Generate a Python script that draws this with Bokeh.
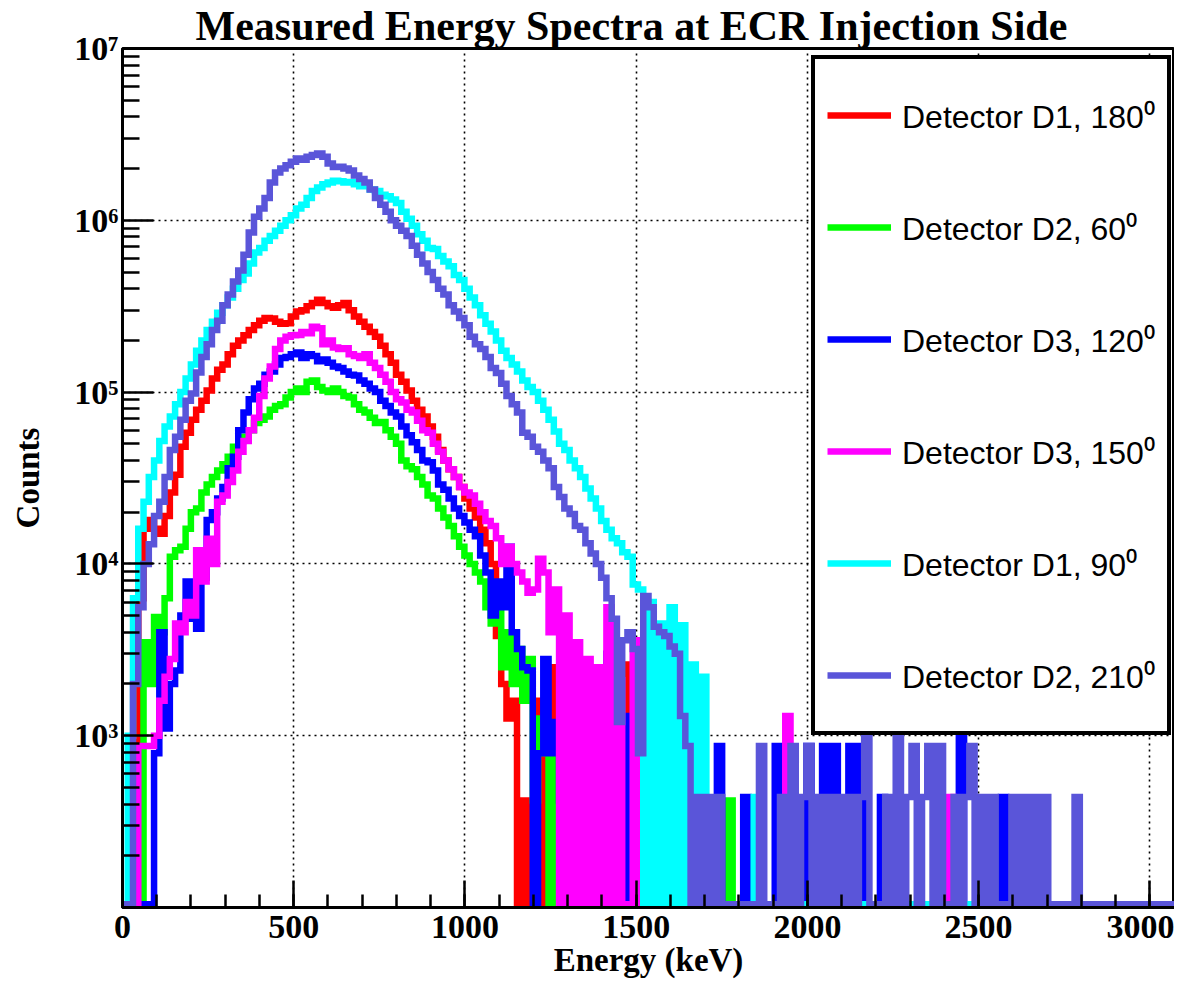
import numpy as np
from bokeh.plotting import figure
from bokeh.models import (Range1d, FixedTicker, CustomJSTickFormatter,
                          Legend, LegendItem, Title)
from bokeh.embed import file_html
from bokeh.resources import INLINE

# ---------------- data (counts per 15.36 keV bin) ----------------
BIN_WIDTH = 15.36
N_BINS = 200
X_MAX = 3072
Y_MIN, Y_MAX = 100, 1e7

labels = ["Detector D1, 180\u2070", "Detector D2, 60\u2070", "Detector D3, 120\u2070",
          "Detector D3, 150\u2070", "Detector D1, 90\u2070", "Detector D2, 210\u2070"]
colors = ["#ff0000", "#00ff00", "#0000ff", "#ff00ff", "#00ffff", "#5a55d9"]

d1_180 = [0, 0, 790, 6300, 1.6e4, 1.8e4, 1.6e4, 1.5e4, 1.9e4, 2.6e4,
          3.3e4, 4.8e4, 5.8e4, 6.9e4, 7.9e4, 8.9e4, 1.02e5, 1.2e5, 1.35e5, 1.45e5,
          1.66e5, 1.86e5, 2.0e5, 2.14e5, 2.3e5, 2.45e5, 2.6e5, 2.7e5, 2.68e5, 2.57e5,
          2.5e5, 2.52e5, 2.75e5, 2.95e5, 3.0e5, 3.16e5, 3.3e5, 3.45e5, 3.3e5, 3.16e5,
          3.1e5, 3.2e5, 3.3e5, 3.0e5, 2.75e5, 2.57e5, 2.4e5, 2.24e5, 2.1e5, 1.86e5,
          1.66e5, 1.48e5, 1.26e5, 1.15e5, 1.02e5, 8.9e4, 7.9e4, 7.2e4, 6.3e4, 5.5e4,
          4.6e4, 4.0e4, 3.55e4, 3.2e4, 2.8e4, 2.4e4, 2.1e4, 1.86e4, 1.58e4, 1.32e4,
          1.0e4, 3800, 2000, 1260, 1600, 0, 420, 0, 420, 1600,
          0, 2500, 0, 1000, 0, 0, 0, 1200, 0, 0,
          0, 0, 0, 0, 0, 0, 2600]

d2_60 = [0, 0, 0, 0, 3500, 2000, 4900, 4000, 6300, 1.1e4,
         1.2e4, 1.26e4, 1.6e4, 2.0e4, 2.1e4, 2.6e4, 2.9e4, 3.2e4, 3.5e4, 3.8e4,
         4.2e4, 4.8e4, 5.2e4, 5.5e4, 6.0e4, 6.6e4, 6.9e4, 7.2e4, 7.9e4, 8.3e4,
         8.5e4, 9.3e4, 1.0e5, 1.05e5, 1.0e5, 1.15e5, 1.17e5, 1.07e5, 1.02e5, 1.0e5,
         1.05e5, 1.0e5, 9.5e4, 9.3e4, 8.5e4, 7.9e4, 7.6e4, 7.1e4, 6.6e4, 6.7e4,
         6.0e4, 5.5e4, 5.0e4, 4.0e4, 3.7e4, 3.55e4, 3.2e4, 2.9e4, 2.5e4, 2.4e4,
         2.1e4, 1.86e4, 1.66e4, 1.45e4, 1.26e4, 1.12e4, 1.0e4, 8900, 7900, 5600,
         4500, 7100, 2500, 4000, 2000, 3200, 1600, 2800, 420, 1260,
         790, 0, 790, 0, 0, 0, 0, 0, 0, 0,
         0, 0, 0, 0, 0, 0, 0, 0, 0, 0,
         0, 0, 0, 0, 0, 0, 0, 0, 0, 0,
         0, 0, 0, 0, 0, 420]

d3_120 = [0, 0, 0, 0, 0, 0, 790, 4000, 1100, 2000,
          2400, 5000, 7900, 4800, 4200, 8300, 1.8e4, 2.0e4, 2.4e4, 2.8e4,
          3.6e4, 4.2e4, 6.0e4, 7.6e4, 9.1e4, 1.05e5, 1.12e5, 1.26e5, 1.32e5, 1.45e5,
          1.58e5, 1.6e5, 1.66e5, 1.7e5, 1.58e5, 1.66e5, 1.62e5, 1.51e5, 1.55e5, 1.48e5,
          1.41e5, 1.38e5, 1.32e5, 1.26e5, 1.25e5, 1.17e5, 1.12e5, 1.05e5, 1.0e5, 8.9e4,
          8.3e4, 7.6e4, 7.2e4, 6.3e4, 5.6e4, 5.1e4, 4.6e4, 4.0e4, 3.9e4, 3.5e4,
          2.9e4, 2.7e4, 2.4e4, 2.1e4, 1.9e4, 1.74e4, 1.58e4, 1.45e4, 1.12e4, 8900,
          5000, 7900, 5600, 1.26e4, 4000, 3200, 2500, 2400, 0, 790,
          2800, 790, 1200, 420, 0, 0, 790, 0, 2500, 0,
          0, 0, 3000, 0, 0, 0, 1300, 0, 0, 0,
          0, 0, 0, 0, 0, 0, 0, 0, 0, 1300,
          0, 0, 0, 870, 0, 0, 0, 0, 440, 0,
          0, 0, 0, 0, 870, 0, 0, 0, 0, 0,
          870, 0, 0, 870, 0, 870, 0, 0, 870, 0,
          870, 0, 0, 0, 440, 0, 0, 0, 0, 0,
          0, 0, 0, 0, 0, 0, 0, 0, 0, 1050,
          0, 0, 0, 0, 0, 0, 0, 440]

d3_150 = [0, 0, 0, 870, 870, 870, 1000, 1600, 2200, 2800,
          4500, 4000, 6000, 5000, 1.2e4, 7900, 1.4e4, 1.0e4, 2.3e4, 2.5e4,
          3.0e4, 3.5e4, 4.5e4, 5.2e4, 6.0e4, 7.1e4, 9.5e4, 1.2e5, 1.41e5, 1.78e5,
          2.0e5, 2.1e5, 2.14e5, 2.15e5, 2.24e5, 2.2e5, 2.4e5, 2.35e5, 1.9e5, 2.0e5,
          1.82e5, 1.78e5, 1.8e5, 1.66e5, 1.62e5, 1.58e5, 1.66e5, 1.48e5, 1.38e5, 1.26e5,
          1.15e5, 1.0e5, 9.1e4, 8.7e4, 7.9e4, 7.6e4, 6.8e4, 6.0e4, 5.8e4, 5.0e4,
          4.5e4, 4.0e4, 3.55e4, 3.2e4, 2.8e4, 2.6e4, 2.5e4, 2.24e4, 2.0e4, 1.78e4,
          1.66e4, 1.41e4, 1.0e4, 1.26e4, 1.0e4, 8900, 7900, 6800, 7100, 1.07e4,
          8900, 4000, 7100, 0, 5000, 0, 3500, 0, 2800, 0,
          2500, 0, 5600, 0, 2100, 0, 0, 3600, 0, 1600,
          0, 0, 0, 0, 0, 0, 0, 0, 0, 0,
          0, 0, 0, 0, 0, 0, 0, 0, 0, 0,
          0, 0, 0, 0, 0, 0, 1300, 0, 0, 0,
          0, 0, 0, 0, 0, 0, 0, 0, 0, 0,
          0, 0, 0, 0, 0, 0, 0, 0, 0, 0,
          0, 0, 0, 0, 0, 0, 0, 440]

d1_90 = [0, 1000, 6300, 1.6e4, 2.3e4, 3.2e4, 4.0e4, 5.2e4, 6.3e4, 7.2e4,
         8.5e4, 1.0e5, 1.2e5, 1.45e5, 1.74e5, 2.0e5, 2.3e5, 2.57e5, 2.9e5, 3.2e5,
         3.55e5, 4.0e5, 4.5e5, 4.9e5, 5.6e5, 6.5e5, 6.9e5, 7.6e5, 8.1e5, 8.7e5,
         9.3e5, 1.0e6, 1.07e6, 1.17e6, 1.23e6, 1.35e6, 1.48e6, 1.55e6, 1.62e6, 1.66e6,
         1.7e6, 1.69e6, 1.66e6, 1.67e6, 1.62e6, 1.58e6, 1.59e6, 1.51e6, 1.48e6, 1.41e6,
         1.38e6, 1.32e6, 1.26e6, 1.12e6, 1.02e6, 9.3e5, 8.3e5, 7.6e5, 6.9e5, 6.8e5,
         6.2e5, 5.75e5, 5.4e5, 4.8e5, 4.5e5, 4.0e5, 3.55e5, 3.2e5, 2.8e5, 2.5e5,
         2.25e5, 2.0e5, 1.74e5, 1.58e5, 1.45e5, 1.32e5, 1.17e5, 1.07e5, 1.0e5, 8.9e4,
         7.9e4, 6.9e4, 5.9e4, 5.0e4, 4.6e4, 4.0e4, 3.6e4, 3.2e4, 2.75e4, 2.4e4,
         2.1e4, 1.78e4, 1.58e4, 1.41e4, 1.32e4, 1.17e4, 1.1e4, 7600, 7100, 0,
         6000, 0, 4500, 0, 5600, 0, 4400, 0, 2600, 0,
         2200, 0, 0, 0, 0, 0, 0, 0, 0, 0,
         440]

d2_210 = [0, 0, 2000, 5600, 1.0e4, 1.3e4, 1.9e4, 2.3e4, 3.2e4, 4.6e4,
          5.5e4, 6.9e4, 8.9e4, 9.8e4, 1.3e5, 1.6e5, 1.9e5, 2.3e5, 2.6e5, 3.2e5,
          3.7e5, 4.4e5, 5.1e5, 6.3e5, 8.5e5, 1.05e6, 1.17e6, 1.35e6, 1.66e6, 1.9e6,
          2.0e6, 2.09e6, 2.19e6, 2.29e6, 2.25e6, 2.34e6, 2.4e6, 2.45e6, 2.34e6, 2.14e6,
          2.04e6, 2.05e6, 2.0e6, 1.95e6, 1.82e6, 1.74e6, 1.66e6, 1.51e6, 1.35e6, 1.23e6,
          1.12e6, 1.0e6, 9.3e5, 8.7e5, 8.1e5, 7.1e5, 6.3e5, 5.6e5, 5.0e5, 4.5e5,
          4.0e5, 3.7e5, 3.2e5, 2.95e5, 2.7e5, 2.45e5, 2.1e5, 1.9e5, 1.78e5, 1.6e5,
          1.38e5, 1.29e5, 1.12e5, 9.5e4, 8.5e4, 7.6e4, 5.8e4, 5.5e4, 4.8e4, 4.5e4,
          4.0e4, 3.6e4, 2.8e4, 2.45e4, 2.1e4, 1.95e4, 1.66e4, 1.58e4, 1.32e4, 1.15e4,
          1.0e4, 8300, 6300, 4800, 1200, 3600, 4000, 3200, 790, 6500,
          5600, 4300, 4000, 3800, 3300, 3000, 1300, 870, 0, 440,
          0, 440, 0, 440, 0, 0, 0, 0, 0, 0,
          0, 870, 0, 0, 0, 440, 0, 870, 0, 440,
          870, 0, 440, 0, 440, 0, 440, 0, 440, 0,
          440, 1050, 0, 0, 0, 440, 0, 1050, 0, 440,
          870, 0, 440, 870, 0, 870, 0, 0, 440, 0,
          440, 870, 0, 440, 0, 440, 0, 0, 0, 440,
          0, 440, 0, 440, 0, 440, 0, 0, 0, 0,
          0, 440]

series = [d1_180, d2_60, d3_120, d3_150, d1_90, d2_210]

# ---------------- figure ----------------
SERIF = "Liberation Serif"
SANS = "Liberation Sans"
FLOOR = Y_MIN * 1.045   # empty bins are drawn along the bottom of the frame

p = figure(frame_width=1052, frame_height=859, y_axis_type="log",
           x_range=Range1d(0, X_MAX), y_range=Range1d(Y_MIN, Y_MAX),
           output_backend="svg", toolbar_location=None,
           min_border_left=122, min_border_right=0, min_border_top=48, min_border_bottom=82,
           background_fill_color="white", border_fill_color="white")

p.title = Title(text="Measured Energy Spectra at ECR Injection Side", align="left", offset=73,
                text_font=SERIF, text_font_style="bold", text_font_size="42px",
                text_line_height=1.0, text_color="black", standoff=0)

edges = list(np.arange(N_BINS + 1) * BIN_WIDTH)
renderers = []
for vals, col in zip(series, colors):
    full = list(vals) + [0] * (N_BINS - len(vals))
    yv = [v if v > 0 else FLOOR for v in full]
    yv = yv + [yv[-1]]
    r = p.step(x=edges, y=yv, mode="after", line_color=col, line_width=6.5,
               line_join="miter", line_cap="butt")
    renderers.append(r)

# axes
x_major = [0, 500, 1000, 1500, 2000, 2500, 3000]
x_minor = [100 * k for k in range(31)]
y_major = [1e3, 1e4, 1e5, 1e6, 1e7]
y_minor = [m * 10 ** e for e in range(2, 7) for m in range(2, 10)]

fmt = CustomJSTickFormatter(code="""
const e = Math.round(Math.log10(tick));
const s = "\u2070\u00b9\u00b2\u00b3\u2074\u2075\u2076\u2077\u2078\u2079";
return "10" + String(e).split("").map(c => s[parseInt(c)]).join("");
""")

xa = p.xaxis[0]
xa.ticker = FixedTicker(ticks=x_major, minor_ticks=x_minor)
xa.axis_label = "Energy (keV)"
ya = p.yaxis[0]
ya.ticker = FixedTicker(ticks=y_major, minor_ticks=y_minor)
ya.formatter = fmt
ya.axis_label = "Counts"

for ax in (xa, ya):
    ax.major_label_text_font = SERIF
    ax.major_label_text_font_style = "bold"
    ax.major_label_text_font_size = "34px"
    ax.major_label_text_color = "black"
    ax.axis_label_text_font = SERIF
    ax.axis_label_text_font_style = "bold"
    ax.axis_label_text_font_size = "33px"
    ax.axis_label_text_color = "black"
    ax.axis_line_width = 3
    ax.axis_line_color = "black"
    ax.major_tick_out = 0
    ax.minor_tick_out = 0
    ax.major_tick_line_width = 2.5
    ax.minor_tick_line_width = 2.5
    ax.major_tick_line_color = "black"
    ax.minor_tick_line_color = "black"

xa.major_tick_in = 27
xa.minor_tick_in = 13
xa.major_label_standoff = 8
xa.axis_label_standoff = 1
ya.major_tick_in = 31
ya.minor_tick_in = 17
ya.major_label_standoff = 4
ya.axis_label_standoff = 25

p.xgrid.grid_line_color = "black"
p.xgrid.grid_line_dash = "2 4"
p.xgrid.grid_line_width = 1.6
p.ygrid.grid_line_color = "black"
p.ygrid.grid_line_dash = "2 4"
p.ygrid.grid_line_width = 1.6

p.outline_line_color = "black"
p.outline_line_width = 3

legend = Legend(items=[LegendItem(label=l, renderers=[r]) for l, r in zip(labels, renderers)],
                location=(689, 172), orientation="vertical",
                label_text_font=SANS, label_text_font_size="32px", label_text_color="black",
                glyph_width=64, glyph_height=88, label_height=88, label_width=250,
                spacing=24, padding=12, label_standoff=11, margin=0,
                border_line_color="black", border_line_width=4, border_line_alpha=1.0,
                background_fill_color="white", background_fill_alpha=1.0)
p.add_layout(legend)

open("out.html", "w").write(file_html(p, INLINE))
